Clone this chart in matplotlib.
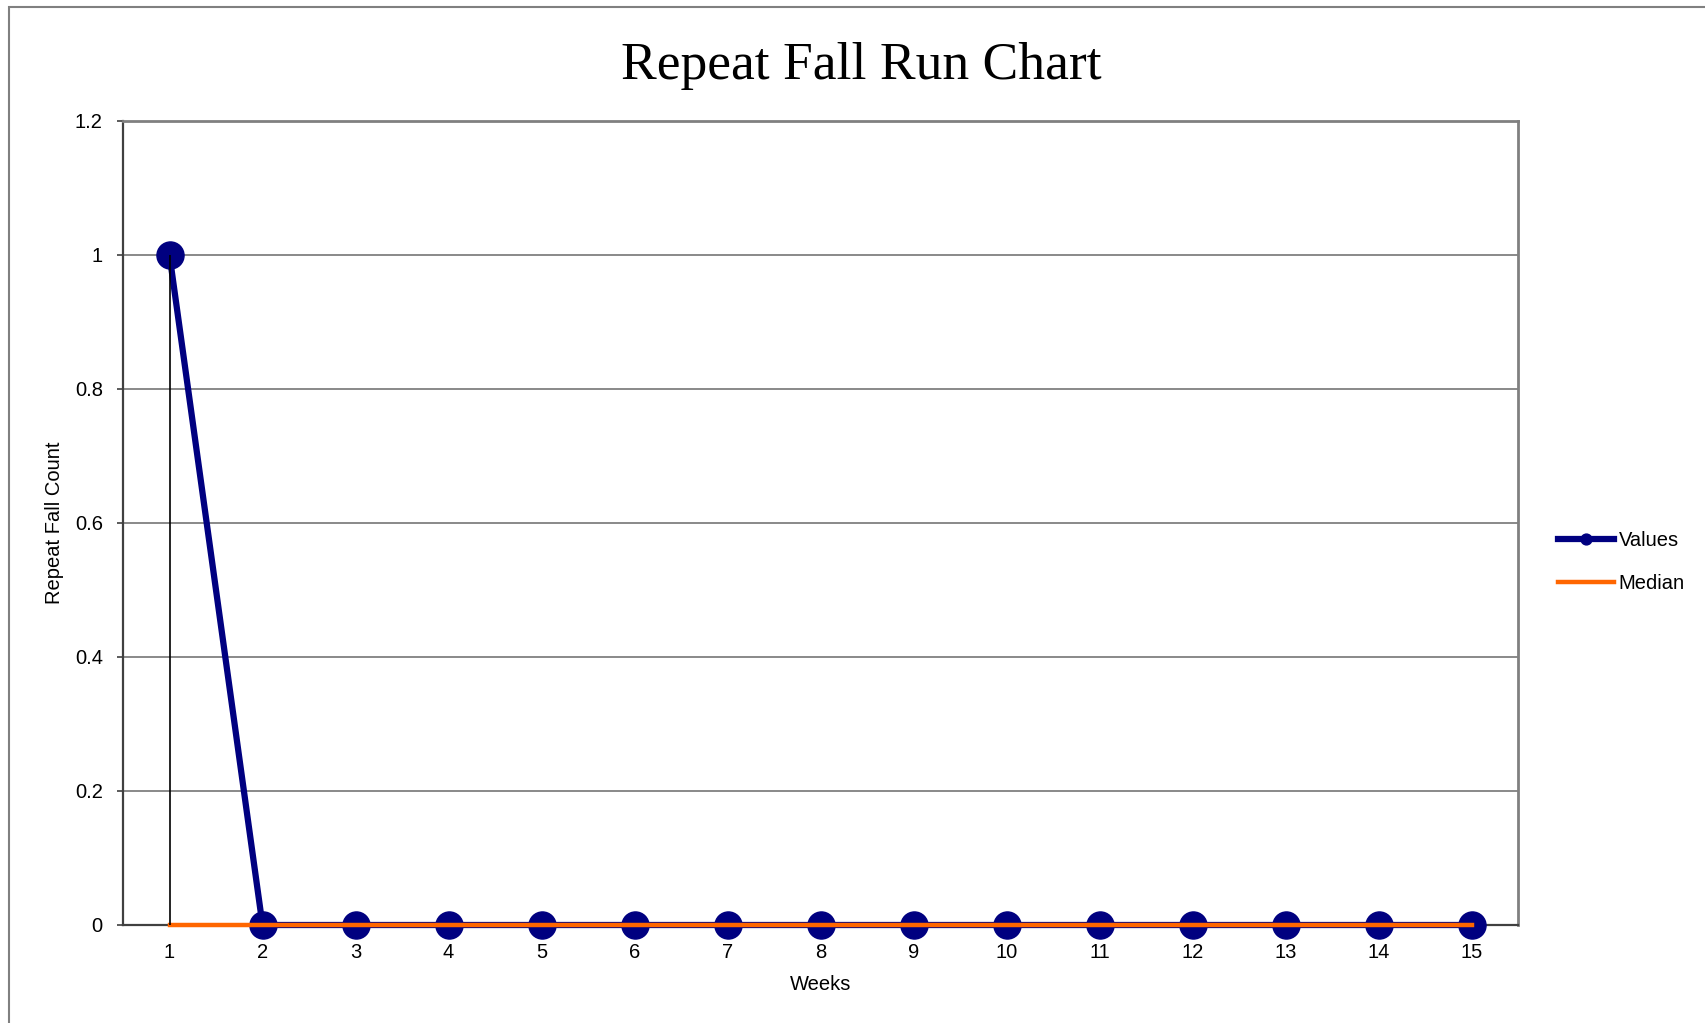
import matplotlib
matplotlib.use("Agg")
import matplotlib.pyplot as plt
from matplotlib.patches import Rectangle

weeks = list(range(1, 16))
values = [1, 0, 0, 0, 0, 0, 0, 0, 0, 0, 0, 0, 0, 0, 0]
median = [0] * 15
y_ticks = [0, 0.2, 0.4, 0.6, 0.8, 1, 1.2]
y_tick_labels = ["0", "0.2", "0.4", "0.6", "0.8", "1", "1.2"]

plt.rcParams['font.family'] = ['Liberation Sans', 'DejaVu Sans']

W, H = 1705, 1023
fig = plt.figure(figsize=(W / 100, H / 100), dpi=100)

# outer chart border (runs off right/bottom)
fig.patches.append(Rectangle((9 / W, -0.05), 1.2, 1 - 7 / H + 0.05,
                             transform=fig.transFigure, fill=False,
                             edgecolor='#808080', linewidth=1.5, zorder=0))

ax = fig.add_axes([123 / W, 1 - 925 / H, (1518 - 123) / W, (925 - 121) / H])

ax.plot(weeks, values, color='#000080', linewidth=4.5, marker='o',
        markersize=19.5, markerfacecolor='#000080', markeredgecolor='#000080',
        zorder=3, label='Values', solid_joinstyle='round', clip_on=False)
ax.plot(weeks, median, color='#FF6600', linewidth=3.2, zorder=4, label='Median',
        clip_on=False)
ax.vlines(weeks[0], 0, values[0], color='black', linewidth=1.2, zorder=5)

ax.set_xlim(0.5, 15.5)
ax.set_ylim(0, 1.2)
ax.set_xticks(weeks)
ax.set_xticklabels([str(w) for w in weeks])
ax.set_yticks(y_ticks)
ax.set_yticklabels(y_tick_labels)
ax.yaxis.grid(True, color='#808080', linewidth=1.3)
ax.set_axisbelow(True)

ax.tick_params(axis='y', length=4.5, width=1.2, color='#404040', pad=10,
               labelsize=14.5)
ax.tick_params(axis='x', length=0, pad=13, labelsize=14.5)

for s in ['top', 'right']:
    ax.spines[s].set_color('#808080')
    ax.spines[s].set_linewidth(2)
for s in ['left', 'bottom']:
    ax.spines[s].set_color('#404040')
    ax.spines[s].set_linewidth(1.6)

ax.set_xlabel('Weeks', fontsize=14.5, labelpad=9)
ax.set_ylabel('Repeat Fall Count', fontsize=14.5, labelpad=8)

fig.text(861 / W, 1 - 66 / H, 'Repeat Fall Run Chart', ha='center', va='center',
         fontsize=38.5, family=['Liberation Serif', 'DejaVu Serif'])

handles, labels = ax.get_legend_handles_labels()
leg = fig.legend(handles, labels, loc='center left',
                 bbox_to_anchor=(1558 / W, 1 - 562 / H), frameon=False,
                 fontsize=14.5, handlelength=2.8, handletextpad=0.2,
                 labelspacing=1.15, borderpad=0, borderaxespad=0,
                 markerscale=0.4)

fig.savefig('out.png', dpi=100)
